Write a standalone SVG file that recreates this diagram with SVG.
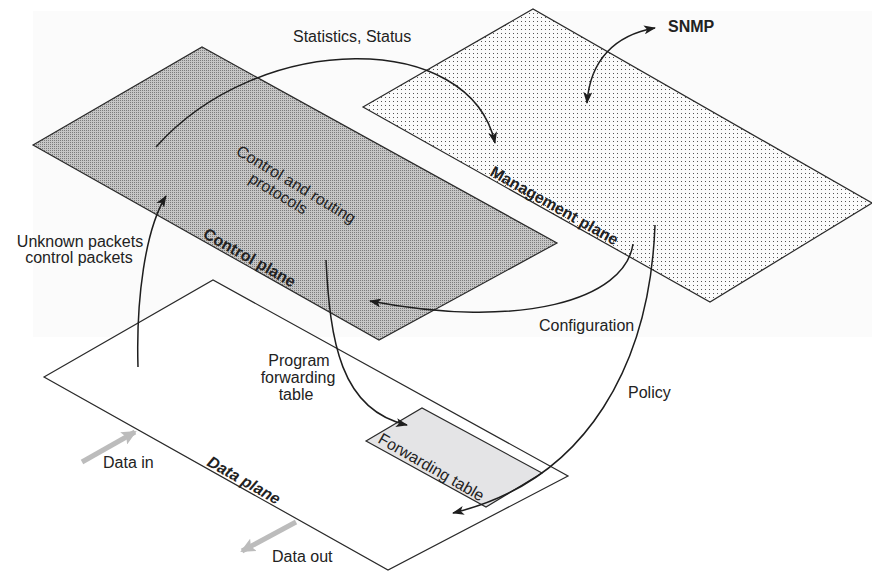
<svg xmlns="http://www.w3.org/2000/svg" width="872" height="571" viewBox="0 0 872 571">
  <style>
    .plane { stroke: #2a2a2a; stroke-width: 1.2; stroke-linejoin: miter; }
    .lbl { font-family: "Liberation Sans", Arial, sans-serif; font-size: 16px; fill: #222; }
    .bold { font-weight: bold; }
    .conn { fill: none; stroke: #1e1e1e; stroke-width: 1.5; }
    .io { fill: none; stroke: #bcbcbc; stroke-width: 5; }
  </style>
  <defs>
    <pattern id="ctrlPat" width="2" height="2" patternUnits="userSpaceOnUse">
      <rect width="2" height="2" fill="#c6c6c6"/>
      <rect width="1" height="1" fill="#7c7c7c"/>
    </pattern>
    <pattern id="mgmtPat" width="4" height="4" patternUnits="userSpaceOnUse">
      <rect width="4" height="4" fill="#fbfbfb"/>
      <rect x="1" y="1" width="1" height="1" fill="#555"/>
    </pattern>
    <marker id="ah" viewBox="0 0 12 9" refX="11" refY="4.5" markerWidth="12" markerHeight="9" markerUnits="userSpaceOnUse" orient="auto-start-reverse">
      <path d="M0,0 L12,4.5 L0,9 L3,4.5 z" fill="#1e1e1e"/>
    </marker>
    <marker id="gh" viewBox="0 0 15 14" refX="13" refY="7" markerWidth="15" markerHeight="14" markerUnits="userSpaceOnUse" orient="auto">
      <path d="M0,0 L15,7 L0,14 L3,7 z" fill="#bcbcbc"/>
    </marker>
  </defs>

  <rect x="33" y="11" width="839" height="326" fill="#fbfbfb"/>

  <g id="data-plane">
    <polygon class="plane" points="44,377 213,280 568,476 388,570" fill="#ffffff"/>
    <text class="lbl bold" font-style="italic" transform="translate(206,465) rotate(29.5)">Data plane</text>
  </g>

  <g id="forwarding-table">
    <polygon class="plane" points="366,441 422,408 542,473 486,507" fill="#e4e4e6"/>
    <text class="lbl" transform="translate(377,442) rotate(30)">Forwarding table</text>
  </g>

  <g id="control-plane">
    <polygon class="plane" points="33,145 202,47 557,243 379,340" fill="url(#ctrlPat)"/>
    <text class="lbl bold" transform="translate(202,237) rotate(29.4)">Control plane</text>
    <g transform="translate(235,154) rotate(31)">
      <text class="lbl" x="0" y="0">Control and routing</text>
      <text class="lbl" x="25" y="17">protocols</text>
    </g>
  </g>

  <g id="management-plane">
    <polygon class="plane" points="363,107 533,9 872,203 710,302" fill="url(#mgmtPat)"/>
    <text class="lbl bold" transform="translate(489,175) rotate(29.4)">Management plane</text>
  </g>

  <g id="connectors">
    <path class="conn" d="M156,147 C260,30 470,30 495,143" marker-end="url(#ah)"/>
    <path class="conn" d="M587,103 C590,60 615,35 655,28" marker-start="url(#ah)" marker-end="url(#ah)"/>
    <path class="conn" d="M138,367 C136,300 145,230 166,196" marker-end="url(#ah)"/>
    <path class="conn" d="M326,260 C330,340 340,410 407,425" marker-end="url(#ah)"/>
    <path class="conn" d="M633,244 C625,300 520,330 370,301" marker-end="url(#ah)"/>
    <path class="conn" d="M655,225 C650,360 590,480 453,513" marker-end="url(#ah)"/>
    <path class="io" d="M82,462 L135,432" marker-end="url(#gh)"/>
    <path class="io" d="M296,522 L242,551" marker-end="url(#gh)"/>
  </g>

  <g id="labels">
    <text class="lbl" x="293" y="42">Statistics, Status</text>
    <text class="lbl bold" x="668" y="32">SNMP</text>
    <text class="lbl" x="80" y="247" text-anchor="middle">Unknown packets</text>
    <text class="lbl" x="79" y="263" text-anchor="middle">control packets</text>
    <text class="lbl" x="539" y="331">Configuration</text>
    <text class="lbl" x="628" y="398">Policy</text>
    <text class="lbl" x="299" y="366" text-anchor="middle">Program</text>
    <text class="lbl" x="298" y="383" text-anchor="middle">forwarding</text>
    <text class="lbl" x="296" y="400" text-anchor="middle">table</text>
    <text class="lbl" x="103" y="468">Data in</text>
    <text class="lbl" x="272" y="562">Data out</text>
  </g>
</svg>
